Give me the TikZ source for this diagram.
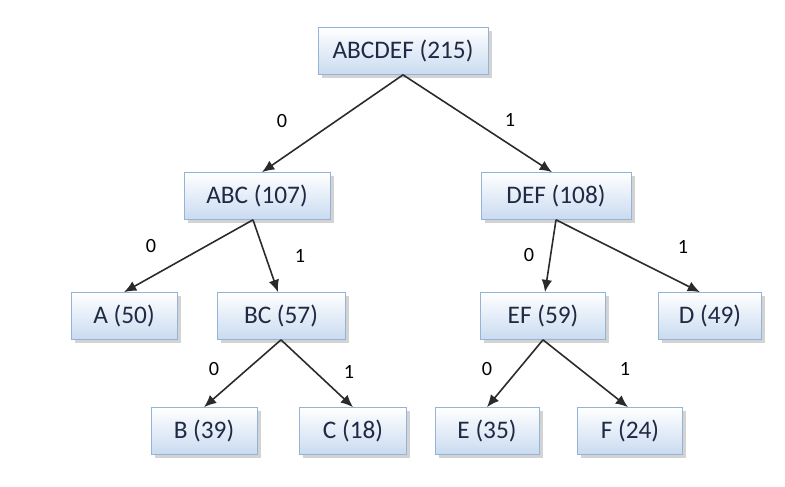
\documentclass[tikz,border=0pt]{standalone}
\usepackage{fontspec}
\setmainfont{Carlito}
\usepackage{xcolor}
\usetikzlibrary{
  arrows.meta,
  shadows}

\definecolor{boxline}{HTML}{95B3D7}
\definecolor{boxfill}{HTML}{C9DBF0}
\definecolor{boxtext}{HTML}{1F2A44}
\definecolor{edgegray}{HTML}{2A2A2A}

\tikzset{
  box/.style={draw=boxline, top color=white, bottom color=boxfill,
    drop shadow={opacity=0.35, shadow xshift=2pt, shadow yshift=-2pt},
    text=boxtext, font=\fontsize{14.4}{17}\selectfont,
    inner xsep=0pt, minimum width=2.1cm, minimum height=0.94cm},
  bit/.style={font=\fontsize{11.5}{13}\selectfont},
  edge/.style={draw=edgegray, line width=0.9pt, -{Latex[length=7pt,width=6pt]}}
}

\begin{document}
\begin{tikzpicture}[x=0.02cm,y=-0.02cm]
  \useasboundingbox (0,0) rectangle (785,487);

  \node[box, minimum width=3.4cm] (abcdef) at (403,51) {ABCDEF (215)};

  \node[box, minimum width=2.92cm] (abc) at (257,196) {ABC (107)};
  \node[box, minimum width=3cm] (def) at (556,196) {DEF (108)};

  \node[box, minimum width=2.12cm] (a)  at (124,316) {A (50)};
  \node[box, minimum width=2.56cm] (bc) at (281,316) {BC (57)};
  \node[box, minimum width=2.5cm] (ef) at (543,316) {EF (59)};
  \node[box, minimum width=2.06cm] (d)  at (710,316) {D (49)};

  \node[box, minimum width=2.12cm] (b) at (204,431) {B (39)};
  \node[box, minimum width=2.14cm] (c) at (353,431) {C (18)};
  \node[box, minimum width=2.08cm] (e) at (487,431) {E (35)};
  \node[box, minimum width=2.1cm] (f) at (630,431) {F (24)};

  % connectors
  \draw[edge] (abcdef.south) -- ([xshift=5*0.02cm]abc.north);
  \draw[edge] (abcdef.south) -- ([xshift=-4*0.02cm]def.north);
  \draw[edge] ([xshift=-4*0.02cm]abc.south) -- (a.north);
  \draw[edge] ([xshift=-4*0.02cm]abc.south) -- ([xshift=-3*0.02cm]bc.north);
  \draw[edge] (def.south) -- ([xshift=2*0.02cm]ef.north);
  \draw[edge] (def.south) -- ([xshift=-10*0.02cm]d.north);
  \draw[edge] (bc.south) -- (b.north);
  \draw[edge] (bc.south) -- (c.north);
  \draw[edge] (ef.south) -- (e.north);
  \draw[edge] (ef.south) -- ([xshift=-2*0.02cm]f.north);

  % bits
  \node[bit] (l1) at (282,121) {0};
  \node[bit] (r1) at (510,120) {1};
  \node[bit] (l2) at (151,246) {0};
  \node[bit] (r2) at (300,256) {1};
  \node[bit] (l3) at (529,255) {0};
  \node[bit] (r3) at (683,247) {1};
  \node[bit] (l4) at (214,369) {0};
  \node[bit] (r4) at (349,372) {1};
  \node[bit] (l5) at (487,369) {0};
  \node[bit] (r5) at (625,369) {1};
\end{tikzpicture}
\end{document}
